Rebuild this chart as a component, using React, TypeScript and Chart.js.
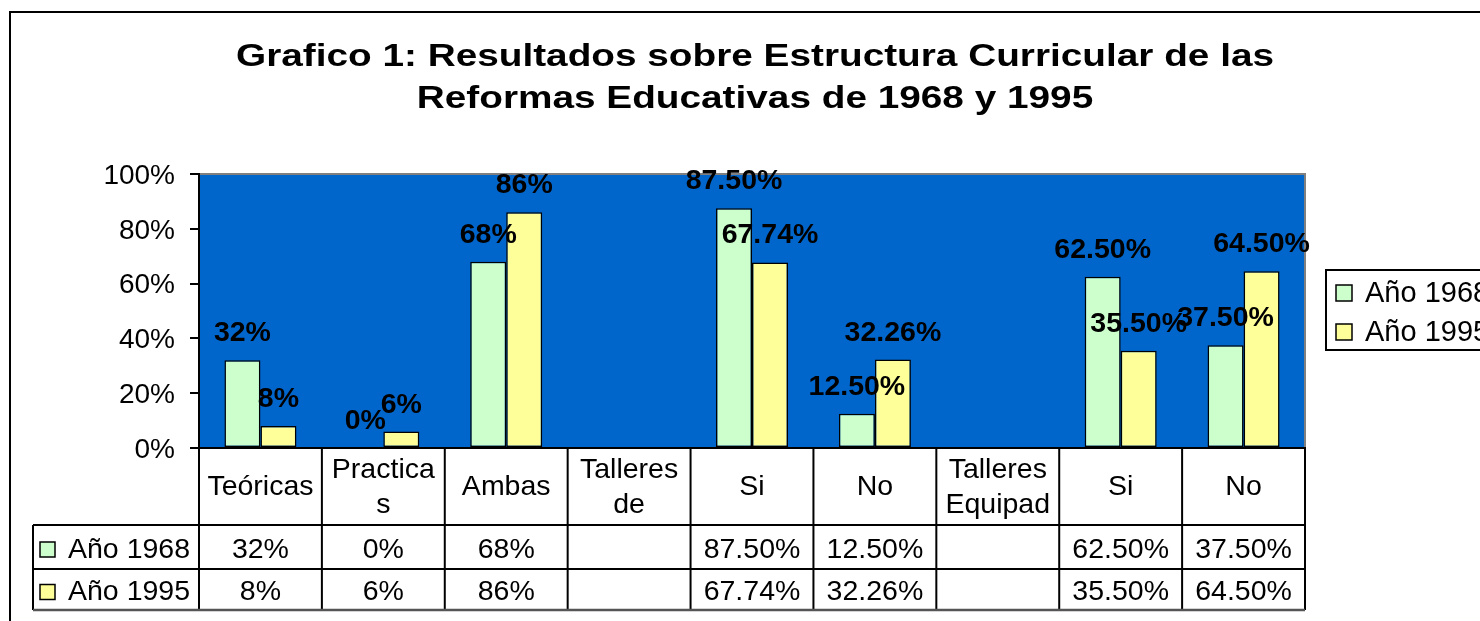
import React, { useEffect, useRef } from "react";
import { Chart, registerables } from "chart.js";

Chart.register(...registerables);

const titleLines = [
  "Grafico 1: Resultados sobre Estructura Curricular de las",
  "Reformas Educativas de 1968 y 1995",
];
const categories: string[][] = [
  ["Teóricas"],
  ["Practica", "s"],
  ["Ambas"],
  ["Talleres", "de"],
  ["Si"],
  ["No"],
  ["Talleres", "Equipad"],
  ["Si"],
  ["No"],
];
const seriesNames = ["Año 1968", "Año 1995"];
const values1968 = [0.32, 0, 0.68, null, 0.875, 0.125, null, 0.625, 0.375];
const values1995 = [0.08, 0.06, 0.86, null, 0.6774, 0.3226, null, 0.355, 0.645];
const labelDecimals = [0, 0, 0, 0, 2, 2, 0, 2, 2];
const yTicks = [0, 0.2, 0.4, 0.6, 0.8, 1.0];

const GREEN = "#CCFFCC";
const YELLOW = "#FFFF99";
const PLOT_BG = "#0066CC";
const FONT = '"Liberation Sans", Arial, sans-serif';

function fmt(v: number, d: number) {
  return (v * 100).toFixed(d) + "%";
}

const customPlugin = {
  id: "custom",
  beforeDraw(chart: any) {
    const { ctx, chartArea: a } = chart;
    ctx.save();
    ctx.fillStyle = "#ffffff";
    ctx.fillRect(0, 0, chart.width, chart.height);
    ctx.fillStyle = PLOT_BG;
    ctx.fillRect(a.left, a.top, a.right - a.left, a.bottom - a.top);
    ctx.strokeStyle = "#808080";
    ctx.lineWidth = 2;
    ctx.beginPath();
    ctx.moveTo(a.left, a.top);
    ctx.lineTo(a.right, a.top);
    ctx.lineTo(a.right, a.bottom);
    ctx.stroke();
    ctx.restore();
  },
  afterDatasetsDraw(chart: any) {
    const { ctx } = chart;
    ctx.save();
    ctx.font = `bold 28.5px ${FONT}`;
    ctx.fillStyle = "#000";
    ctx.textAlign = "center";
    ctx.textBaseline = "alphabetic";
    chart.data.datasets.forEach((ds: any, di: number) => {
      const meta = chart.getDatasetMeta(di);
      meta.data.forEach((el: any, i: number) => {
        const v = ds.data[i];
        if (v === null || v === undefined) return;
        ctx.fillText(fmt(v, labelDecimals[i]), el.x, el.y - 19);
      });
    });
    ctx.restore();
  },
  afterDraw(chart: any) {
    const { ctx, chartArea: a } = chart;
    const xs = chart.scales.x;
    const n = categories.length;
    const colW = (a.right - a.left) / n;
    ctx.save();

    // outer frame
    ctx.strokeStyle = "#000";
    ctx.lineWidth = 2;
    ctx.beginPath();
    ctx.moveTo(10, chart.height);
    ctx.lineTo(10, 12);
    ctx.lineTo(chart.width, 12);
    ctx.stroke();

    // title
    ctx.fillStyle = "#000";
    ctx.font = `bold 31px ${FONT}`;
    ctx.textAlign = "center";
    ctx.textBaseline = "alphabetic";
    const sx = 1038 / ctx.measureText(titleLines[0]).width;
    const titleBase = [66, 108];
    titleLines.forEach((t, i) => {
      ctx.save();
      ctx.translate(755, titleBase[i]);
      ctx.scale(sx, 1);
      ctx.fillText(t, 0, 0);
      ctx.restore();
    });

    // data table
    const rowTop = a.bottom;
    const r1 = 525;
    const r2 = 569;
    const r3 = 610;
    const tableLeft = 33;
    ctx.strokeStyle = "#000";
    ctx.lineWidth = 2;
    ctx.beginPath();
    [r1, r2].forEach((y) => {
      ctx.moveTo(tableLeft, y);
      ctx.lineTo(a.right, y);
    });
    ctx.moveTo(tableLeft, r1);
    ctx.lineTo(tableLeft, r3);
    for (let i = 0; i <= n; i++) {
      const x = a.left + i * colW;
      ctx.moveTo(x, rowTop);
      ctx.lineTo(x, r3);
    }
    ctx.stroke();
    ctx.strokeStyle = "#555";
    ctx.lineWidth = 2.5;
    ctx.beginPath();
    ctx.moveTo(tableLeft, r3);
    ctx.lineTo(a.right, r3);
    ctx.stroke();

    ctx.fillStyle = "#000";
    ctx.font = `28.5px ${FONT}`;
    ctx.textAlign = "center";
    ctx.textBaseline = "middle";
    const headMid = (rowTop + r1) / 2 + 1;
    const lh = 35;
    categories.forEach((lines, i) => {
      const cx = xs.getPixelForValue(i);
      const start = headMid - ((lines.length - 1) * lh) / 2;
      lines.forEach((l, k) => ctx.fillText(l, cx, start + k * lh));
    });
    const rowMids = [(r1 + r2) / 2 + 3, (r2 + r3) / 2 + 3];
    const cols = [GREEN, YELLOW];
    chart.data.datasets.forEach((ds: any, di: number) => {
      const ym = rowMids[di];
      ds.data.forEach((v: any, i: number) => {
        if (v === null || v === undefined) return;
        ctx.fillStyle = "#000";
        ctx.textAlign = "center";
        ctx.fillText(fmt(v, labelDecimals[i]), xs.getPixelForValue(i), ym);
      });
      ctx.fillStyle = cols[di];
      ctx.fillRect(40, ym - 8, 15, 15);
      ctx.strokeStyle = "#000";
      ctx.lineWidth = 1.5;
      ctx.strokeRect(40, ym - 8, 15, 15);
      ctx.fillStyle = "#000";
      ctx.textAlign = "left";
      ctx.fillText(ds.label, 68, ym);
    });

    // legend
    ctx.strokeStyle = "#000";
    ctx.lineWidth = 2;
    ctx.strokeRect(1326, 270, 200, 80);
    ctx.font = `29px ${FONT}`;
    ctx.textAlign = "left";
    ctx.textBaseline = "middle";
    const legMids = [293, 332];
    chart.data.datasets.forEach((ds: any, di: number) => {
      const ym = legMids[di];
      ctx.fillStyle = cols[di];
      ctx.fillRect(1336, ym - 8, 16, 16);
      ctx.strokeStyle = "#000";
      ctx.lineWidth = 1.5;
      ctx.strokeRect(1336, ym - 8, 16, 16);
      ctx.fillStyle = "#000";
      ctx.fillText(ds.label, 1365, ym + 1);
    });

    ctx.restore();
  },
};

export default function App() {
  const ref = useRef<HTMLCanvasElement | null>(null);
  useEffect(() => {
    document.body.style.margin = "0";
    const canvas = ref.current;
    if (!canvas) return;
    const chart = new Chart(canvas, {
      type: "bar",
      data: {
        labels: categories,
        datasets: [
          {
            label: seriesNames[0],
            data: values1968,
            backgroundColor: GREEN,
            borderColor: "#000",
            borderWidth: 1.5,
            borderSkipped: false,
            categoryPercentage: 0.586,
            barPercentage: 1.0,
          },
          {
            label: seriesNames[1],
            data: values1995,
            backgroundColor: YELLOW,
            borderColor: "#000",
            borderWidth: 1.5,
            borderSkipped: false,
            categoryPercentage: 0.586,
            barPercentage: 1.0,
          },
        ],
      },
      options: {
        responsive: false,
        animation: false,
        devicePixelRatio: 1,
        layout: { padding: { top: 174, right: 175, bottom: 0, left: 0 } },
        plugins: {
          legend: { display: false },
          title: { display: false },
          tooltip: { enabled: false },
        },
        scales: {
          x: {
            type: "category",
            offset: true,
            grid: { display: false },
            ticks: { display: false },
            border: { display: true, color: "#000", width: 2 },
            afterFit(scale: any) {
              scale.height = 173;
            },
          },
          y: {
            min: 0,
            max: 1,
            afterBuildTicks(scale: any) {
              scale.ticks = yTicks.map((v) => ({ value: v }));
            },
            ticks: {
              color: "#000",
              font: { family: FONT, size: 28 },
              padding: 15,
              labelOffset: 2,
              callback: (v: any) => Math.round(Number(v) * 100) + "%",
            },
            grid: {
              drawOnChartArea: false,
              drawTicks: true,
              tickLength: 9,
              color: "#000",
              lineWidth: 2,
            },
            border: { display: true, color: "#000", width: 2 },
            afterFit(scale: any) {
              scale.width = 199;
            },
          },
        },
      },
      plugins: [customPlugin],
    });
    return () => chart.destroy();
  }, []);
  return (
    <div style={{ width: 1480, height: 621 }}>
      <canvas ref={ref} width={1480} height={621} />
    </div>
  );
}
